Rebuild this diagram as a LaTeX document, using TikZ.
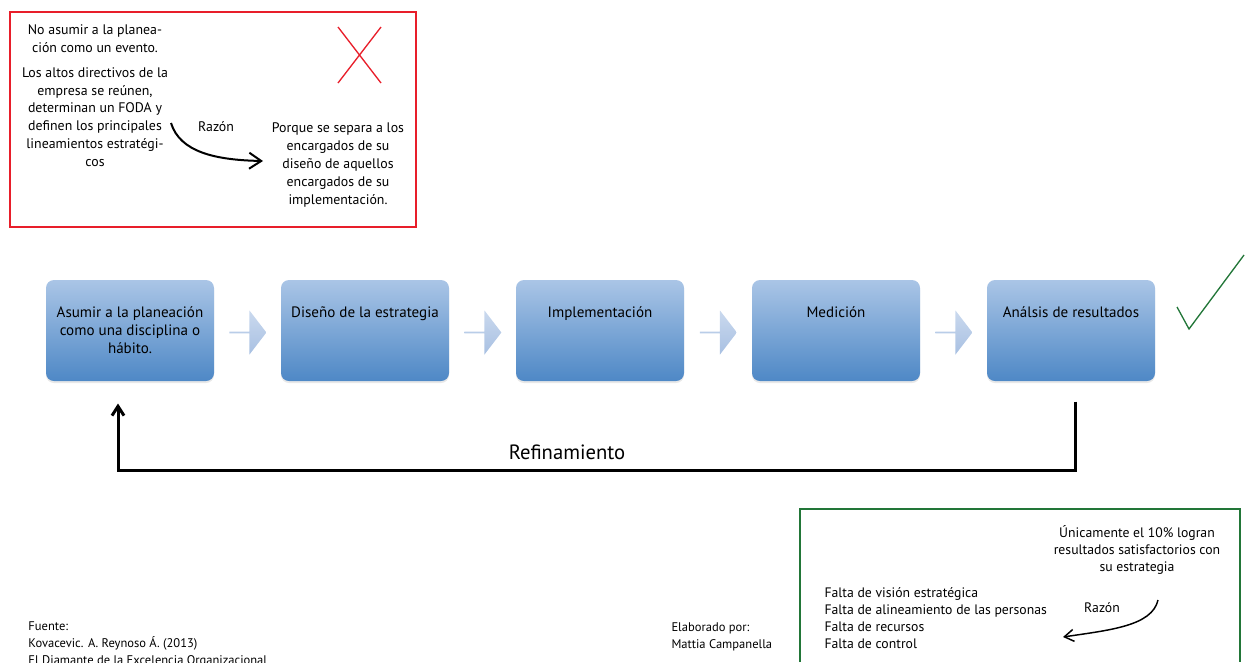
\documentclass[tikz,border=0pt]{standalone}
\usepackage{fontspec}
\setmainfont{PT Sans}
\usetikzlibrary{positioning,calc,shapes.arrows,arrows.meta,shadows}

\definecolor{rojo}{RGB}{232,30,42}
\definecolor{verde}{RGB}{34,118,56}
\definecolor{azulclaro}{RGB}{170,197,230}
\definecolor{azuloscuro}{RGB}{78,136,198}
\definecolor{flechaclara}{RGB}{202,217,238}
\definecolor{flechaoscura}{RGB}{168,192,226}

\tikzset{every picture/.style={line width=0.75pt}}
\tikzset{
  paso/.style={rounded corners=6pt, top color=azulclaro, bottom color=azuloscuro, draw=none,
    minimum width=126pt, minimum height=75.75pt, inner sep=0pt,
    drop shadow={opacity=0.18, shadow xshift=0pt, shadow yshift=-1.5pt}},
  txtpaso/.style={anchor=north, align=center, inner sep=0.75pt, font=\fontsize{11.3pt}{13.7pt}\selectfont},
  flecha/.style={single arrow, draw=none, top color=flechaclara, bottom color=flechaoscura,
    minimum height=27.75pt, minimum width=33pt, single arrow head extend=8.25pt,
    single arrow tip angle=105, inner sep=0pt},
  txt/.style={align=center, inner sep=0.75pt, font=\fontsize{10.4pt}{13.4pt}\selectfont},
  txtverde/.style={inner sep=0.75pt, font=\fontsize{10.3pt}{12.8pt}\selectfont},
  txtfuente/.style={align=left, inner sep=0.75pt, font=\fontsize{9.4pt}{12.75pt}\selectfont},
}

\begin{document}
\begin{tikzpicture}[x=0.75pt,y=0.75pt,yscale=-1,xscale=1]
	\useasboundingbox (0,0) rectangle (1252,662);

	%Shape: Rectangle (red box)
	\draw [rojo, line width=1.1pt]  (10,12) -- (416,12) -- (416,227) -- (10,227) -- cycle ;
	%Shape: X
	\draw [rojo, line width=1pt]  (338,27) -- (381,83) (381,27) -- (338,83) ;

	\node [txt] (evento) at (95,39) {No asumir a la planea-\\ción como un evento.};
	\node [txt] (directivos) at (95,117) {Los altos directivos de la\\empresa se reúnen,\\determinan un FODA y\\definen los principales\\lineamientos estratégi-\\cos};
	\node [txt] (razon1) at (216,127) {Razón};
	\node [txt] (porque) at (338,165) {Porque se separa a los\\encargados de su\\diseño de aquellos\\encargados de su\\implementación.};
	\coordinate (r1a) at (171,123);
	\coordinate (r1b) at (263,161);
	\draw [line width=1.5pt, -{Straight Barb[length=9pt,width=12pt]}]  (r1a) .. controls (180,152) and (215,160) .. (r1b) ;

	%Shapes: steps
	\node [paso] (paso1) at (130,330.5) {};
	\node [paso] (paso2) at (365,330.5) {};
	\node [paso] (paso3) at (600,330.5) {};
	\node [paso] (paso4) at (836,330.5) {};
	\node [paso] (paso5) at (1071,330.5) {};

	\node [txtpaso] (t1) at ($(paso1.north)+(0,22)$) {\rule{0pt}{10.5pt}Asumir a la planeación\\como una disciplina o\\hábito.};
	\node [txtpaso] (t2) at ($(paso2.north)+(0,22)$) {\rule{0pt}{10.5pt}Diseño de la estrategia};
	\node [txtpaso] (t3) at ($(paso3.north)+(0,22)$) {\rule{0pt}{10.5pt}Implementación};
	\node [txtpaso] (t4) at ($(paso4.north)+(0,22)$) {\rule{0pt}{10.5pt}Medición};
	\node [txtpaso] (t5) at ($(paso5.north)+(0,22)$) {\rule{0pt}{10.5pt}Análsis de resultados};

	%Shapes: arrows between steps
	\foreach \a/\b in {1/2,2/3,3/4,4/5}
	  \node [flecha] (f\a) at ($(paso\a.east)!0.5!(paso\b.west)+(0,2)$) {};

	%Check
	\draw [verde, line width=1pt]  (1177,307) -- (1189,329) -- (1244,255) ;

	%Loop
	\coordinate (ini) at ($(paso5.south)+(4,20)$);
	\coordinate (fin) at ($(paso1.south)+(-12,22)$);
	\draw [line width=2.25pt, -{Straight Barb[length=7pt,width=9pt]}]  (ini) -- ++(0,69) -| (fin) ;
	\node [inner sep=0.75pt, font=\fontsize{15.5pt}{17pt}\selectfont] (refi) at (567,452) {Refinamiento};

	%Shape: green box
	\draw [verde, line width=1.1pt]  (800,662) -- (800,509) -- (1240,509) -- (1240,662) ;
	\node [txtverde, align=center] (unicamente) at (1137,550) {Únicamente el 10\% logran\\resultados satisfactorios con\\su estrategia};
	\node [txtverde, align=left, anchor=west] (faltas) at (823,618.5) {Falta de visión estratégica\\Falta de alineamiento de las personas\\Falta de recursos\\Falta de control};
	\node [txtverde] (razon2) at (1102,608) {Razón};
	\coordinate (r2a) at (1158,600);
	\coordinate (r2b) at (1063,637);
	\draw [line width=1.1pt, -{Straight Barb[length=7pt,width=9pt]}]  (r2a) .. controls (1152,626) and (1110,630) .. (r2b) ;

	%Credits
	\node [txtfuente, anchor=north west] (fuente) at (27,620) {Fuente:\\Kovacevic. A. Reynoso Á. (2013)\\El Diamante de la Excelencia Organizacional};
	\node [txtfuente, anchor=north west] (elaborado) at (670,621) {Elaborado por:\\Mattia Campanella};

\end{tikzpicture}
\end{document}
